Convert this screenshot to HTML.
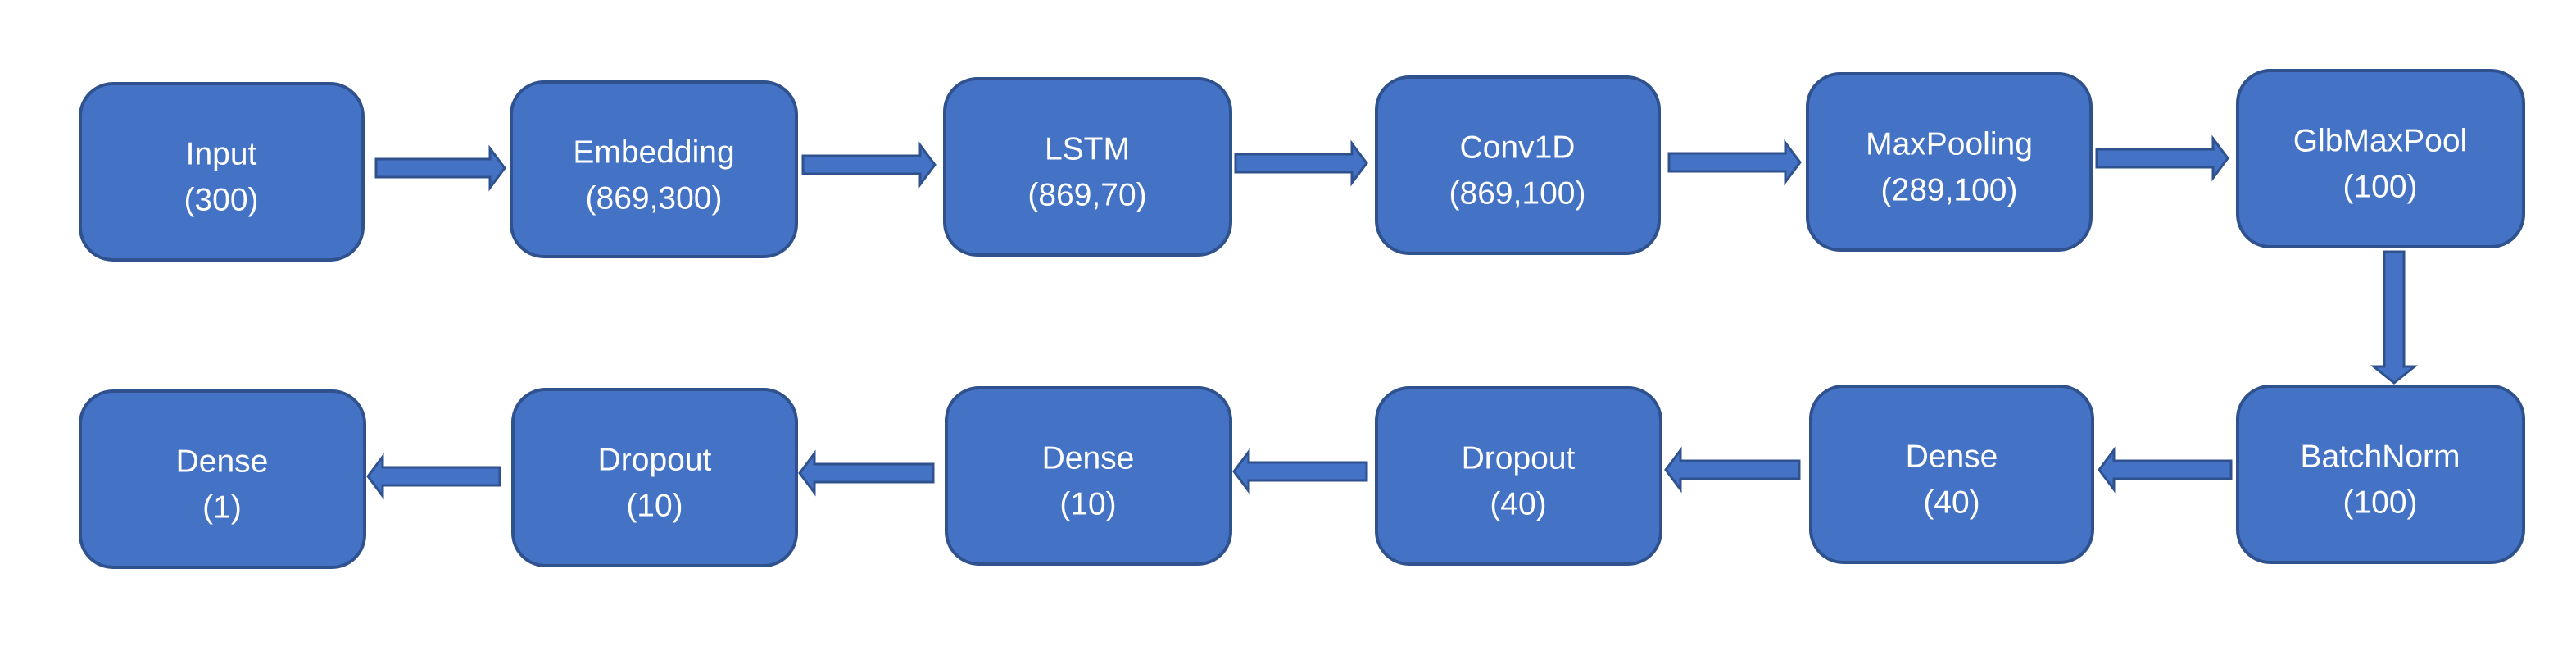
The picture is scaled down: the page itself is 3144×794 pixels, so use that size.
<!DOCTYPE html>
<html><head><meta charset="utf-8"><style>
html,body{margin:0;padding:0;background:#fff;}
svg{display:block;}
text{font-family:"Liberation Sans",sans-serif;font-size:39px;fill:#fff;text-anchor:middle;dominant-baseline:middle;}
</style></head><body>
<svg width="3144" height="794" viewBox="0 0 3144 794" xmlns="http://www.w3.org/2000/svg">
<g fill="#4472C4" stroke="#2F528F" stroke-width="4">
<rect x="98" y="102" width="345" height="215" rx="40"/>
<rect x="624" y="100" width="348" height="213" rx="40"/>
<rect x="1153" y="96" width="349" height="215" rx="40"/>
<rect x="1680" y="94" width="345" height="215" rx="40"/>
<rect x="2206" y="90" width="346" height="215" rx="40"/>
<rect x="2731" y="86" width="349" height="215" rx="40"/>
<rect x="98" y="477" width="347" height="215" rx="40"/>
<rect x="626" y="475" width="346" height="215" rx="40"/>
<rect x="1155" y="473" width="347" height="215" rx="40"/>
<rect x="1680" y="473" width="347" height="215" rx="40"/>
<rect x="2210" y="471" width="344" height="215" rx="40"/>
<rect x="2731" y="471" width="349" height="215" rx="40"/>
</g>
<g fill="#4472C4" stroke="#2F528F" stroke-width="3" stroke-linejoin="miter">
<path d="M459,194 H598 V181 L616,205 L598,229 V216 H459 Z"/>
<path d="M980,190 H1123 V177 L1141,201 L1123,225 V212 H980 Z"/>
<path d="M1508,188 H1650 V175 L1668,199 L1650,223 V210 H1508 Z"/>
<path d="M2037,187 H2179 V174 L2197,198 L2179,222 V209 H2037 Z"/>
<path d="M2559,182 H2701 V169 L2719,193 L2701,217 V204 H2559 Z"/>
<path d="M610,570 H467 V557 L449,581 L467,605 V592 H610 Z"/>
<path d="M1139,566 H994 V553 L976,577 L994,601 V588 H1139 Z"/>
<path d="M1668,564 H1524 V551 L1506,575 L1524,599 V586 H1668 Z"/>
<path d="M2196,562 H2051 V549 L2033,573 L2051,597 V584 H2196 Z"/>
<path d="M2723,562 H2580 V549 L2562,573 L2580,597 V584 H2723 Z"/>
<path d="M2910,307 H2934 V447 H2947 L2922,467 L2897,447 H2910 Z"/>
</g>
<text x="270" y="190">Input</text><text x="270" y="246">(300)</text>
<text x="798" y="188">Embedding</text><text x="798" y="244">(869,300)</text>
<text x="1327" y="184">LSTM</text><text x="1327" y="240">(869,70)</text>
<text x="1852" y="182">Conv1D</text><text x="1852" y="238">(869,100)</text>
<text x="2379" y="178">MaxPooling</text><text x="2379" y="234">(289,100)</text>
<text x="2905" y="174">GlbMaxPool</text><text x="2905" y="230">(100)</text>
<text x="271" y="565">Dense</text><text x="271" y="621">(1)</text>
<text x="799" y="563">Dropout</text><text x="799" y="619">(10)</text>
<text x="1328" y="561">Dense</text><text x="1328" y="617">(10)</text>
<text x="1853" y="561">Dropout</text><text x="1853" y="617">(40)</text>
<text x="2382" y="559">Dense</text><text x="2382" y="615">(40)</text>
<text x="2905" y="559">BatchNorm</text><text x="2905" y="615">(100)</text>
</svg>
</body></html>
